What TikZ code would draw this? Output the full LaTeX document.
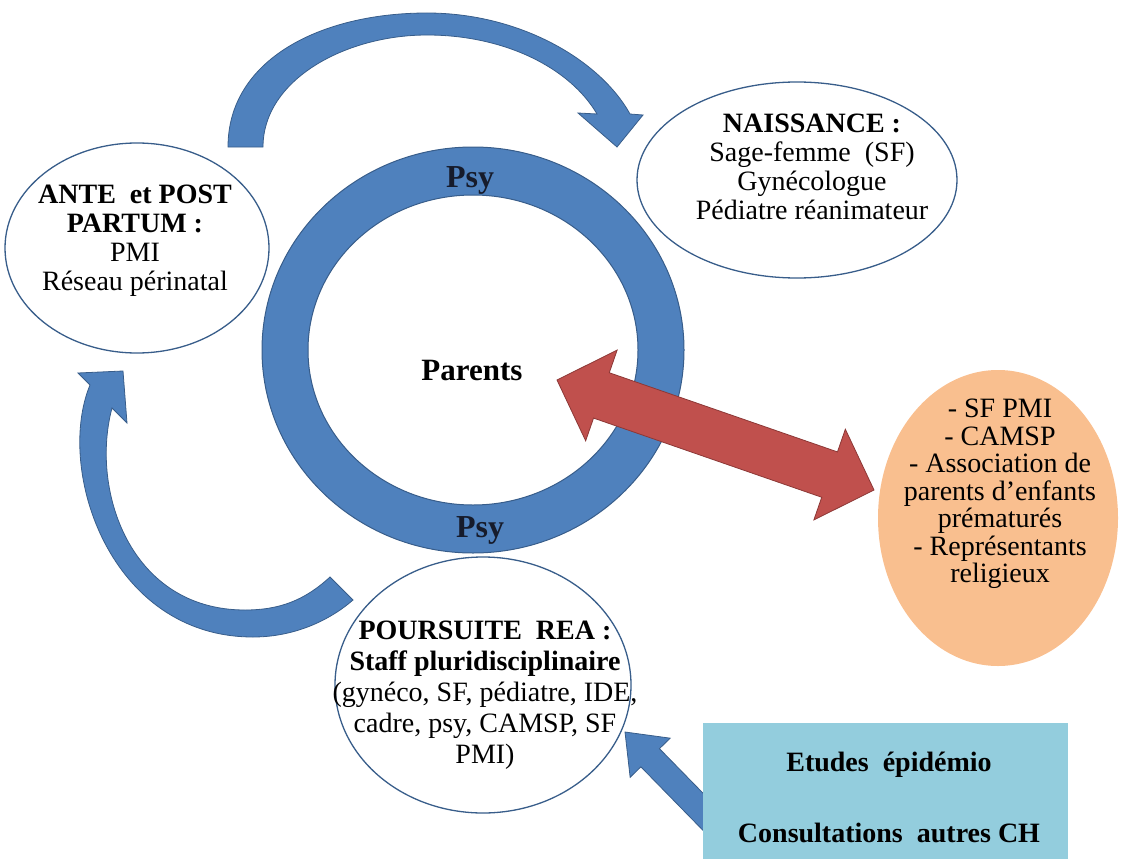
\documentclass[tikz,border=0pt]{standalone}
\usepackage{fontspec}
\setmainfont{Liberation Serif}
\usetikzlibrary{shapes.geometric,calc}
\definecolor{ringblue}{HTML}{4F81BD}
\definecolor{edgeblue}{HTML}{385D8A}
\definecolor{arrowred}{HTML}{C0504D}
\definecolor{edgered}{HTML}{8C3836}
\definecolor{peach}{HTML}{F9BF8F}
\definecolor{skybox}{HTML}{93CDDD}
\definecolor{ink}{HTML}{161B2B}

\begin{document}
\begin{tikzpicture}[x=1pt, y=-1pt,
  txt/.style={align=center, inner sep=0pt, text=black, font=\fontsize{28}{29}\selectfont},
  bigtxt/.style={inner sep=0pt, text=ink, font=\fontsize{32}{32}\selectfont\bfseries},
  bubble/.style={ellipse, draw=edgeblue, line width=1.3pt, fill=white, inner sep=0pt},
  ringfill/.style={fill=ringblue, draw=edgeblue, line width=1pt, even odd rule},
  bluearr/.style={fill=ringblue, draw=edgeblue, line width=0.8pt},
  redarr/.style={fill=arrowred, draw=edgered, line width=0.8pt},
  refbox/.style={fill=skybox, draw=none, inner sep=0pt}]
\useasboundingbox (0,0) rectangle (1121,859);
% central ring
\path[ringfill] (473,350) ellipse [x radius=211pt, y radius=203pt]
                (473,350) ellipse [x radius=165pt, y radius=155pt];
\node[bigtxt] (psytop) at (470,180) {Psy};
\node[bigtxt] (psybot) at (480,530) {Psy};
\node[bigtxt, font=\fontsize{31}{31}\selectfont\bfseries, text=black] (parents) at (472,370) {Parents};
% curved arrows of the cycle
\path[bluearr] (228,147) .. controls (228,60) and (320,13) .. (427,13)
  .. controls (520,13) and (600,60) .. (630,114) -- (643,115) -- (617,147) -- (578,113)
  -- (597,114) .. controls (570,68) and (505,35) .. (427,35)
  .. controls (345,35) and (263,80) .. (263,147) -- cycle;
\path[bluearr] (353,600) .. controls (330,620) and (295,637) .. (253,637)
  .. controls (110,637) and (55,470) .. (90,385) -- (78,373) -- (123,371) -- (127,423)
  -- (112,408) .. controls (90,490) and (130,610) .. (245,610)
  .. controls (280,610) and (305,600) .. (330,577) -- cycle;
% the three stages
\node[bubble, minimum width=264pt, minimum height=210pt] (ante) at (137,248) {};
\node[txt] (antetxt) at (135,241) {\textbf{ANTE\ \ et POST}\\\textbf{PARTUM :}\\PMI\\Réseau périnatal};
\node[bubble, minimum width=320pt, minimum height=196pt] (naiss) at (797,180) {};
\node[txt] (naisstxt) at (812,167) {\textbf{NAISSANCE :}\\Sage-femme\ \ (SF)\\Gynécologue\\Pédiatre réanimateur};
\node[bubble, minimum width=296pt, minimum height=256pt] (rea) at (483,685) {};
\node[txt, font=\fontsize{28}{31}\selectfont] (reatxt) at (485,695)
  {\textbf{POURSUITE\ \ REA :}\\\textbf{Staff pluridisciplinaire}\\(gynéco, SF, pédiatre, IDE,\\cadre, psy, CAMSP, SF\\PMI)};
% parents <-> partners
\coordinate (redA) at (557,380);
\coordinate (redB) at (874,490);
\path[redarr] (redA) -- ($(redA)!47pt!(redB)!48pt!90:(redB)$) -- ($(redA)!47pt!(redB)!24pt!90:(redB)$)
  -- ($(redB)!47pt!(redA)!24pt!-90:(redA)$) -- ($(redB)!47pt!(redA)!48pt!-90:(redA)$) -- (redB)
  -- ($(redB)!47pt!(redA)!48pt!90:(redA)$) -- ($(redB)!47pt!(redA)!24pt!90:(redA)$)
  -- ($(redA)!47pt!(redB)!24pt!-90:(redB)$) -- ($(redA)!47pt!(redB)!48pt!-90:(redB)$) -- cycle;
\node[ellipse, fill=peach, inner sep=0pt, minimum width=240pt, minimum height=296pt] (partners) at (998,518) {};
\node[txt, font=\fontsize{28}{27.5}\selectfont] (partnerstxt) at (1000,494)
  {- SF PMI\\- CAMSP\\- Association de\\parents d’enfants\\prématurés\\- Représentants\\religieux};
% studies box feeding the staff
\coordinate (smallT) at (625,732);
\coordinate (smallE) at (713,822);
\path[bluearr] (smallT) -- ($(smallT)!36pt!(smallE)!28pt!90:(smallE)$) -- ($(smallT)!36pt!(smallE)!13pt!90:(smallE)$)
  -- ($(smallE)!13pt!-90:(smallT)$) -- ($(smallE)!13pt!90:(smallT)$)
  -- ($(smallT)!36pt!(smallE)!13pt!-90:(smallE)$) -- ($(smallT)!36pt!(smallE)!28pt!-90:(smallE)$) -- cycle;
\node[refbox, minimum width=365pt, minimum height=136pt] (studies) at (885.5,791) {};
\node[txt] (studiestxt) at (889,797) {\textbf{Etudes\ \ épidémio}\\[42pt]\textbf{Consultations\ \ autres CH}};
\end{tikzpicture}
\end{document}
